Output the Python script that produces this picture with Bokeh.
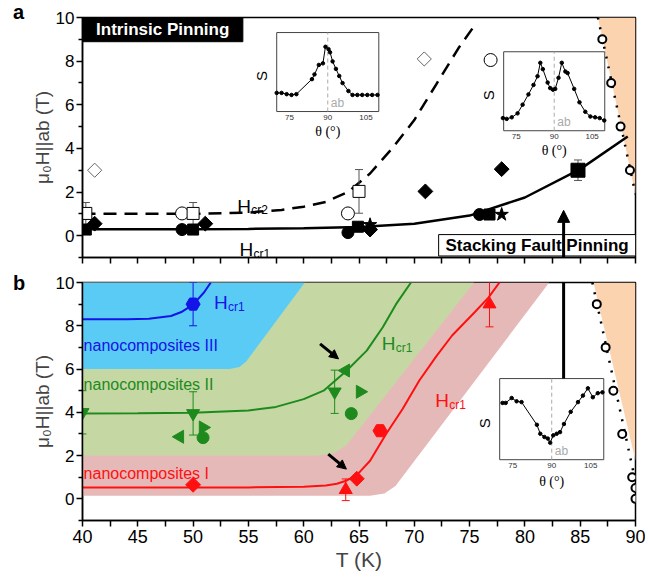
import numpy as np
from bokeh.plotting import figure
from bokeh.models import Range1d, FixedTicker, Arrow, NormalHead, Div
from bokeh.layouts import column, row
from bokeh.embed import file_html
from bokeh.resources import INLINE
from bokeh.core.properties import value

FONT = "Liberation Sans"

# ---------------- data: panel a ----------------
a_hcr1_T = [40, 50, 55, 60, 65, 70, 75, 80, 85, 89.3]
a_hcr1_H = [0.30, 0.30, 0.31, 0.34, 0.40, 0.55, 0.92, 1.75, 3.05, 4.55]
a_hcr2_T = [40, 45, 50, 55, 58, 60, 62, 64, 66, 68, 70, 72, 74, 75.4]
a_hcr2_H = [1.0, 1.0, 1.0, 1.06, 1.18, 1.33, 1.55, 2.0, 2.85, 4.0, 5.3, 6.95, 8.6, 9.6]

a_sq_T = [40.3, 50.0, 64.9, 76.8]
a_sq_H = [0.28, 0.28, 0.41, 0.97]
a_sqbig_T = [84.8]
a_sqbig_H = [3.0]
a_sqbig_err = [0.47]
a_circ_T = [49.0, 64.0, 75.9]
a_circ_H = [0.28, 0.14, 0.97]
a_dia_T = [41.1, 51.1, 66.0, 71.0, 77.9]
a_dia_H = [0.55, 0.55, 0.28, 2.03, 3.05]
a_star_T = [66.0, 77.9]
a_star_H = [0.50, 0.97]
a_ocirc_T = [49.0, 64.0, 76.9]
a_ocirc_H = [1.02, 1.02, 8.05]
a_osq_T = [40.3, 50.0, 65.0]
a_osq_H = [1.02, 1.02, 2.03]
a_osq_err = [0.5, 0.5, 1.0]
a_odia_T = [41.1, 70.9]
a_odia_H = [3.0, 8.1]
a_hc2_T = [87.0, 87.8, 88.65, 89.5]
a_hc2_H = [9.0, 7.0, 5.0, 3.0]
a_orange_T = [86.6, 90, 90]
a_orange_H = [10, 10, 1.9]
a_dot_T = [86.6, 90]
a_dot_H = [10, 1.9]

# ---------------- data: panel b ----------------
b_blue_T = [40, 44, 46, 48, 49, 50, 51, 51.6]
b_blue_H = [8.3, 8.3, 8.33, 8.45, 8.65, 8.98, 9.55, 10.0]
b_green_T = [40, 45, 50, 55, 57.5, 60, 61.8, 63.9, 65.7, 67.15, 68.35, 69.7]
b_green_H = [3.95, 3.96, 3.98, 4.08, 4.25, 4.61, 5.0, 5.93, 6.85, 7.93, 9.0, 10.0]
b_red_T = [40, 50, 55, 60, 62, 63, 63.9, 64.8, 66, 67.45, 68.94, 70.44, 72, 73.42, 75.5, 76.7, 77.7]
b_red_H = [0.52, 0.52, 0.53, 0.56, 0.62, 0.7, 0.85, 1.1, 1.76, 3.0, 4.15, 5.46, 6.6, 7.55, 8.65, 9.3, 10.0]

b_reg3_T = [40, 40, 53.3, 54.2, 54.8, 60.1]
b_reg3_H = [10, 6, 6, 6.1, 6.35, 10]
b_reg2_T = [40, 40, 61.3, 62.8, 63.9, 75.4]
b_reg2_H = [10, 2, 2, 2.12, 2.5, 10]
b_reg1_T = [40, 40, 66.0, 67.3, 68.3, 82.2]
b_reg1_H = [10, 0.14, 0.14, 0.25, 0.6, 10]
b_orange_T = [86.2, 90, 90]
b_orange_H = [10, 10, 1.76]
b_dot_T = [86.1, 90]
b_dot_H = [10, 0.8]

b_rdia_T = [50.0, 64.8]
b_rdia_H = [0.65, 0.93]
b_rtri_T = [63.8, 76.8]
b_rtri_H = [0.42, 9.0]
b_rtri_err = [0.5, 1.05]
b_rhex_T = [66.9]
b_rhex_H = [3.15]
b_gdown_T = [40.0, 50.0, 62.8]
b_gdown_H = [4.0, 3.95, 4.95]
b_gdown_err = [1.0, 1.0, 1.0]
b_gleft_T = [48.8, 63.8]
b_gleft_H = [2.87, 5.93]
b_gright_T = [50.9, 65.1]
b_gright_H = [3.3, 4.95]
b_gcirc_T = [50.9, 64.3]
b_gcirc_H = [2.83, 3.94]
b_bpent_T = [50.0]
b_bpent_H = [9.0]
b_bpent_err = [1.0]
b_hc2_T = [86.5, 87.3, 88.0, 88.8, 89.7, 90.0, 90.0]
b_hc2_H = [9.0, 7.0, 5.0, 3.0, 1.0, 0.5, 0.0]

# ---------------- data: insets (angle, normalised S) ----------------
in1_th = [70, 71.9, 73.9, 75.8, 77.7, 83.8, 84.8, 86.5, 88.1, 89.1, 90.3, 90.9, 91.9, 93.2, 94.5, 95.8, 98.1, 99.7, 101.6, 103.5, 105.5, 107.4, 109.5]
in1_s = [0.236, 0.236, 0.22, 0.21, 0.22, 0.41, 0.47, 0.59, 0.61, 0.82, 0.79, 0.75, 0.635, 0.54, 0.45, 0.36, 0.26, 0.21, 0.21, 0.21, 0.21, 0.21, 0.21]
in2_th = [69.7, 71.2, 73.2, 75.5, 77.5, 79.8, 81.8, 83.4, 84.5, 85.5, 87.4, 88.4, 89.5, 90.4, 91.7, 93.0, 94.4, 95.3, 97.9, 100.0, 102.3, 104.3, 106.2, 108.0, 109.8]
in2_s = [0.16, 0.15, 0.17, 0.22, 0.33, 0.46, 0.58, 0.69, 0.86, 0.78, 0.61, 0.54, 0.52, 0.53, 0.67, 0.86, 0.75, 0.73, 0.53, 0.36, 0.24, 0.18, 0.17, 0.16, 0.13]
in3_th = [71.1, 72.3, 74.6, 76.5, 78.4, 84.3, 85.6, 87.2, 88.5, 89.4, 90.6, 91.9, 93.2, 94.7, 97.3, 100.1, 102.0, 103.9, 105.8, 107.7, 109.5]
in3_s = [0.70, 0.70, 0.76, 0.72, 0.71, 0.43, 0.32, 0.28, 0.26, 0.21, 0.30, 0.32, 0.34, 0.44, 0.59, 0.71, 0.79, 0.88, 0.77, 0.82, 0.83]
inset_ticks = [75, 90, 105]
inset_tick_labels = ["75", "90", "105"]

x_major = [40, 45, 50, 55, 60, 65, 70, 75, 80, 85, 90]
x_minor = [42.5, 47.5, 52.5, 57.5, 62.5, 67.5, 72.5, 77.5, 82.5, 87.5]
y_major = [0, 2, 4, 6, 8, 10]
y_minor = [-1, 1, 3, 5, 7, 9]

BLUE_F, GREEN_F, PINK_F, ORANGE_F = "#5ACBF5", "#C5D8A3", "#E6B9B9", "#FBD3AF"
BLUE, GREEN, RED = "#1414E6", "#1E8A1E", "#FF1010"


def style(p, xlabels):
    p.outline_line_color = "black"
    p.outline_line_width = 1.5
    p.grid.visible = False
    p.background_fill_color = "white"
    p.border_fill_color = "white"
    for ax in p.xaxis:
        if xlabels:
            ax.ticker = FixedTicker(ticks=x_major, minor_ticks=x_minor)
        else:
            ax.ticker = FixedTicker(ticks=[], minor_ticks=x_major + x_minor)
        ax.major_tick_out = 6
        ax.major_tick_in = 0
        ax.minor_tick_out = 6
        ax.minor_tick_in = 0
        ax.axis_line_width = 1.5
        ax.major_tick_line_width = 1.5
        ax.minor_tick_line_width = 1.5
        ax.major_label_text_font = FONT
        ax.major_label_text_font_size = "18px"
        ax.major_label_standoff = 3
        ax.major_label_text_color = "black"
        if xlabels:
            ax.axis_label = "T (K)"
            ax.axis_label_text_font = FONT
            ax.axis_label_text_font_style = "normal"
            ax.axis_label_text_font_size = "21px"
            ax.axis_label_standoff = 2
    for ax in p.yaxis:
        ax.ticker = FixedTicker(ticks=y_major, minor_ticks=y_minor)
        ax.major_tick_out = 6
        ax.major_tick_in = 0
        ax.minor_tick_out = 4
        ax.minor_tick_in = 0
        ax.axis_line_width = 1.5
        ax.major_tick_line_width = 1.5
        ax.minor_tick_line_width = 1.5
        ax.major_label_text_font = FONT
        ax.major_label_text_font_size = "17px"
        ax.major_label_text_color = "black"
        ax.major_label_standoff = 2
        ax.axis_label = "μ₀H||ab (T)"
        ax.axis_label_text_font = FONT
        ax.axis_label_text_font_style = "normal"
        ax.axis_label_text_font_size = "19px"
        ax.axis_label_standoff = 0


def errbars(p, T, H, E, color, w=1.0):
    lo = [h - e for h, e in zip(H, E)]
    hi = [h + e for h, e in zip(H, E)]
    p.segment(x0=T, y0=lo, x1=T, y1=hi, line_color=color, line_width=w)
    p.scatter(x=T, y=lo, marker="dash", size=8, line_color=color, line_width=w)
    p.scatter(x=T, y=hi, marker="dash", size=8, line_color=color, line_width=w)


def hlabel(p, T, H, sub, color):
    p.text(x=[T], y=[H], text=["H"], text_font=value(FONT), text_font_size="19px",
           text_color=color, text_baseline="alphabetic", text_align="left")
    p.text(x=[T], y=[H], text=[sub], text_font=value(FONT), text_font_size="12px",
           text_color=color, text_baseline="alphabetic", text_align="left", x_offset=14, y_offset=4)


def inset(p, T0, T1, H0, H1, th, s, theta_off):
    sub = p.subplot(x_source=Range1d(70, 110), y_source=Range1d(0, 1),
                    x_target=Range1d(T0, T1), y_target=Range1d(H0, H1))
    sub.quad(left=[70], right=[110], bottom=[0], top=[1], fill_color="white",
             line_color="#444444", line_width=1)
    sub.segment(x0=[90], y0=[0], x1=[90], y1=[1], line_color="#aaaaaa", line_dash="4 3", line_width=1)
    sub.line(x=th, y=s, line_color="black", line_width=1)
    sub.scatter(x=th, y=s, size=3.5, color="black")
    sub.text(x=inset_ticks, y=[0, 0, 0], text=inset_tick_labels, y_offset=3, text_baseline="top",
             text_align="center", text_font=value(FONT), text_font_size="8px", text_color="#333333")
    sub.text(x=[90], y=[0], text=["θ (°)"], y_offset=theta_off, text_baseline="top", text_align="center",
             text_font=value("Liberation Serif"), text_font_size="14px", text_color="black")
    sub.text(x=[70], y=[0.45], text=["S"], x_offset=-15, angle=np.pi / 2, text_baseline="middle",
             text_align="center", text_font=value(FONT), text_font_size="15px", text_color="black")
    sub.text(x=[90], y=[0], text=["ab"], x_offset=3, y_offset=-2, text_baseline="bottom", text_align="left",
             text_font=value(FONT), text_font_size="12px", text_color="#aaaaaa")


def letter(txt, pad_top):
    return Div(text=txt, width=28, height=30, margin=(0, 0, 0, 0),
               styles={"font-family": "Liberation Sans", "font-size": "20px", "font-weight": "bold",
                       "line-height": "16px", "padding-top": f"{pad_top}px", "padding-left": "13px",
                       "color": "black"})


FW = 617  # figure width (after the 28px letter column)

# ================= panel a =================
pa = figure(width=FW, height=272, x_range=Range1d(40, 90), y_range=Range1d(-1, 10),
            output_backend="svg", toolbar_location=None,
            min_border_left=49, min_border_right=10, min_border_top=17, min_border_bottom=15)
style(pa, False)

pa.patch(a_orange_T, a_orange_H, fill_color=ORANGE_F, line_color=None)
pa.line(a_dot_T, a_dot_H, line_color="black", line_width=2.5, line_dash="2 8")

pa.line(a_hcr2_T, a_hcr2_H, line_color="black", line_width=2.5, line_dash="13 8")
pa.line(a_hcr1_T, a_hcr1_H, line_color="black", line_width=2.5)

errbars(pa, a_osq_T, a_osq_H, a_osq_err, "#555555")
errbars(pa, a_sqbig_T, a_sqbig_H, a_sqbig_err, "#555555")

pa.scatter(a_odia_T, a_odia_H, marker="square", angle=np.pi / 4, size=10, fill_color="white",
           line_color="#666666", line_width=1)
pa.scatter(a_ocirc_T, a_ocirc_H, marker="circle", size=13, fill_color="white", line_color="black", line_width=1)
pa.scatter(a_osq_T, a_osq_H, marker="square", size=12, fill_color="white", line_color="black", line_width=1)
pa.scatter(a_circ_T, a_circ_H, marker="circle", size=12, color="black")
pa.scatter(a_sq_T, a_sq_H, marker="square", size=11, color="black")
pa.scatter(a_sqbig_T, a_sqbig_H, marker="square", size=14, color="black")
pa.scatter(a_dia_T, a_dia_H, marker="square", angle=np.pi / 4, size=10.5, color="black")
pa.scatter(a_star_T, a_star_H, marker="star", size=14, color="black")
pa.scatter(a_hc2_T, a_hc2_H, marker="circle", size=8, fill_color="white", line_color="black", line_width=2)

hlabel(pa, 54.0, 1.34, "cr2", "black")
hlabel(pa, 54.2, -0.65, "cr1", "black")

inset(pa, 57.56, 66.79, 5.69, 9.31, in1_th, in1_s, 12)
inset(pa, 78.08, 87.22, 4.81, 8.43, in2_th, in2_s, 12)

# Intrinsic pinning box
pa.quad(left=[40], right=[54.5], bottom=[8.89], top=[10], fill_color="black", line_color="black")
pa.text(x=[47.25], y=[9.445], text=["Intrinsic Pinning"], text_align="center", text_baseline="middle",
        text_font=value(FONT), text_font_style="bold", text_font_size="17px", text_color="white")
# Stacking fault pinning box
pa.quad(left=[72.2], right=[90], bottom=[-0.93], top=[0.05], fill_color="white", line_color="black",
        line_width=1)
pa.text(x=[81.1], y=[-0.44], text=["Stacking Fault Pinning"], text_align="center", text_baseline="middle",
        text_font=value(FONT), text_font_style="bold", text_font_size="17px", text_color="black")

pa.add_layout(Arrow(x_start=83.5, y_start=-1.8, x_end=83.5, y_end=1.16, line_width=3, line_color="black",
                    end=NormalHead(size=12, fill_color="black", line_color="black")))

# ================= panel b =================
pb = figure(width=FW, height=304, x_range=Range1d(40, 90), y_range=Range1d(-1, 10),
            output_backend="svg", toolbar_location=None,
            min_border_left=49, min_border_right=10, min_border_top=10, min_border_bottom=56)
style(pb, True)

pb.patch(b_reg1_T, b_reg1_H, fill_color=PINK_F, line_color=None)
pb.patch(b_reg2_T, b_reg2_H, fill_color=GREEN_F, line_color=None)
pb.patch(b_reg3_T, b_reg3_H, fill_color=BLUE_F, line_color=None)
pb.patch(b_orange_T, b_orange_H, fill_color=ORANGE_F, line_color=None)
pb.line(b_dot_T, b_dot_H, line_color="black", line_width=2.5, line_dash="2 8")

pb.line(b_blue_T, b_blue_H, line_color=BLUE, line_width=2)
pb.line(b_green_T, b_green_H, line_color=GREEN, line_width=2)
pb.line(b_red_T, b_red_H, line_color=RED, line_width=2)

errbars(pb, b_bpent_T, b_bpent_H, b_bpent_err, BLUE)
errbars(pb, b_gdown_T, b_gdown_H, b_gdown_err, GREEN)
errbars(pb, b_rtri_T, b_rtri_H, b_rtri_err, RED)

pb.scatter(b_bpent_T, b_bpent_H, marker="hex", size=14, color=BLUE)
pb.scatter(b_gdown_T, b_gdown_H, marker="inverted_triangle", size=13, color=GREEN)
pb.scatter(b_gleft_T, b_gleft_H, marker="triangle", angle=np.pi / 2, size=13, color=GREEN)
pb.scatter(b_gright_T, b_gright_H, marker="triangle", angle=-np.pi / 2, size=13, color=GREEN)
pb.scatter(b_gcirc_T, b_gcirc_H, marker="circle", size=12, color=GREEN)
pb.scatter(b_rdia_T, b_rdia_H, marker="square", angle=np.pi / 4, size=10.5, color=RED)
pb.scatter(b_rtri_T, b_rtri_H, marker="triangle", size=13, color=RED)
pb.scatter(b_rhex_T, b_rhex_H, marker="hex", size=14, color=RED)
pb.scatter(b_hc2_T, b_hc2_H, marker="circle", size=8, fill_color="white", line_color="black", line_width=2)

hlabel(pb, 51.9, 9.07, "cr1", BLUE)
hlabel(pb, 67.06, 7.18, "cr1", GREEN)
hlabel(pb, 71.9, 4.54, "cr1", RED)

for txt, hh, col in [("nanocomposites III", 7.08, BLUE), ("nanocomposites II", 5.28, GREEN),
                     ("nanocomposites I", 1.16, RED)]:
    pb.text(x=[40.1], y=[hh], text=[txt], text_align="left", text_baseline="alphabetic",
            text_font=value(FONT), text_font_size="16px", text_color=col)

inset(pb, 77.72, 87.13, 1.81, 5.56, in3_th, in3_s, 14)

pb.add_layout(Arrow(x_start=83.5, y_start=5.56, x_end=83.5, y_end=10.8, line_width=3, line_color="black",
                    end=None))
pb.add_layout(Arrow(x_start=61.48, y_start=7.16, x_end=63.15, y_end=6.47, line_width=3, line_color="black",
                    end=NormalHead(size=9, fill_color="black", line_color="black")))
pb.add_layout(Arrow(x_start=62.22, y_start=2.07, x_end=63.86, y_end=1.375, line_width=3, line_color="black",
                    end=NormalHead(size=9, fill_color="black", line_color="black")))

layout = column(row(letter("a", 4), pa), row(letter("b", 3), pb))
open("out.html", "w").write(file_html(layout, INLINE))
